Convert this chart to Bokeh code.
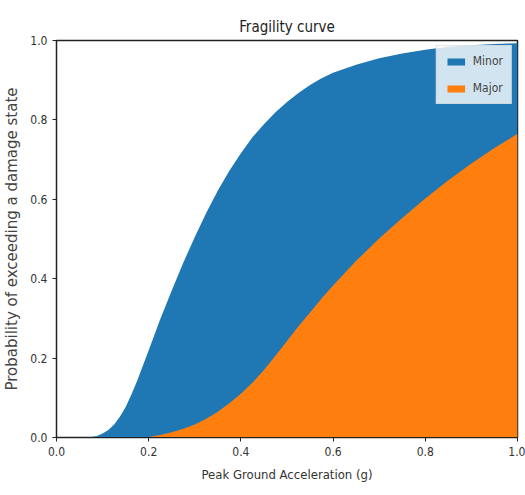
from bokeh.plotting import figure
from bokeh.models import Range1d, FixedTicker, NumeralTickFormatter
from bokeh.embed import file_html
from bokeh.resources import INLINE

pga = [0.0, 0.025, 0.05, 0.065, 0.075, 0.0875, 0.1, 0.1125, 0.125, 0.1375, 0.15, 0.1625,
       0.175, 0.2, 0.225, 0.25, 0.275,
       0.3, 0.325, 0.35, 0.375, 0.4, 0.425, 0.45, 0.475, 0.5, 0.525, 0.55, 0.575, 0.6, 0.65,
       0.7, 0.75, 0.8, 0.85, 0.9, 0.95, 1.0]
minor = [0.0, 0.0, 0.0, 0.0, 0.001, 0.004, 0.010, 0.019, 0.033, 0.052, 0.077, 0.108,
         0.143, 0.220, 0.298, 0.370, 0.440,
         0.505, 0.566, 0.622, 0.672, 0.716, 0.756, 0.789, 0.819, 0.845, 0.868, 0.888, 0.905, 0.919, 0.939,
         0.955, 0.967, 0.977, 0.984, 0.988, 0.991, 0.993]
major = [0.0, 0.0, 0.0, 0.0, 0.0, 0.0, 0.0, 0.0, 0.0, 0.0, 0.0, 0.0,
         0.0, 0.001, 0.006, 0.013, 0.022,
         0.033, 0.047, 0.065, 0.086, 0.110, 0.138, 0.170, 0.206, 0.243, 0.280, 0.315, 0.350, 0.383, 0.445,
         0.501, 0.553, 0.602, 0.648, 0.690, 0.729, 0.765]
ticks = [0.0, 0.2, 0.4, 0.6, 0.8, 1.0]

NARROW = "DejaVu Sans Condensed"

p = figure(width=525, height=495, output_backend="svg", toolbar_location=None,
           x_range=Range1d(0, 1), y_range=Range1d(0, 1),
           title="Fragility curve",
           min_border_left=56, min_border_right=8, min_border_top=40, min_border_bottom=58)

p.varea(x=pga, y1=0, y2=minor, fill_color="#1f77b4", legend_label="Minor")
p.varea(x=pga, y1=0, y2=major, fill_color="#ff7f0e", legend_label="Major")

p.title.align = "center"
p.title.text_font = NARROW
p.title.text_font_size = "15px"
p.title.text_font_style = "normal"
p.title.text_color = "#222222"

p.xgrid.visible = False
p.ygrid.visible = False
p.outline_line_color = "#222222"
p.outline_line_width = 1.5

for ax in (p.xaxis[0], p.yaxis[0]):
    ax.ticker = FixedTicker(ticks=ticks)
    ax.formatter = NumeralTickFormatter(format="0.0")
    ax.major_label_text_font = NARROW
    ax.major_label_text_font_size = "12px"
    ax.major_label_text_color = "#333333"
    ax.minor_tick_line_color = None
    ax.major_tick_out = 4
    ax.major_tick_in = 0
    ax.axis_line_color = "#222222"
    ax.major_tick_line_color = "#222222"

p.xaxis.axis_label = "Peak Ground Acceleration (g)"
p.xaxis.axis_label_text_font = NARROW
p.xaxis.axis_label_text_font_size = "13px"
p.xaxis.axis_label_text_font_style = "normal"
p.xaxis.axis_label_text_color = "#333333"
p.xaxis.axis_label_standoff = 8

p.yaxis.axis_label = "Probability of exceeding a damage state"
p.yaxis.axis_label_text_font = "DejaVu Sans"
p.yaxis.axis_label_text_font_size = "15px"
p.yaxis.axis_label_text_font_style = "normal"
p.yaxis.axis_label_text_color = "#444444"
p.yaxis.axis_label_standoff = 6

p.legend.location = "top_right"
p.legend.label_text_font = NARROW
p.legend.label_text_font_size = "12px"
p.legend.background_fill_alpha = 0.8
p.legend.border_line_color = "#cccccc"
p.legend.glyph_width = 22
p.legend.glyph_height = 9
p.legend.label_height = 14
p.legend.spacing = 13
p.legend.padding = 8
p.legend.margin = 5
p.legend.label_standoff = 6

open("out.html", "w").write(file_html(p, INLINE))
